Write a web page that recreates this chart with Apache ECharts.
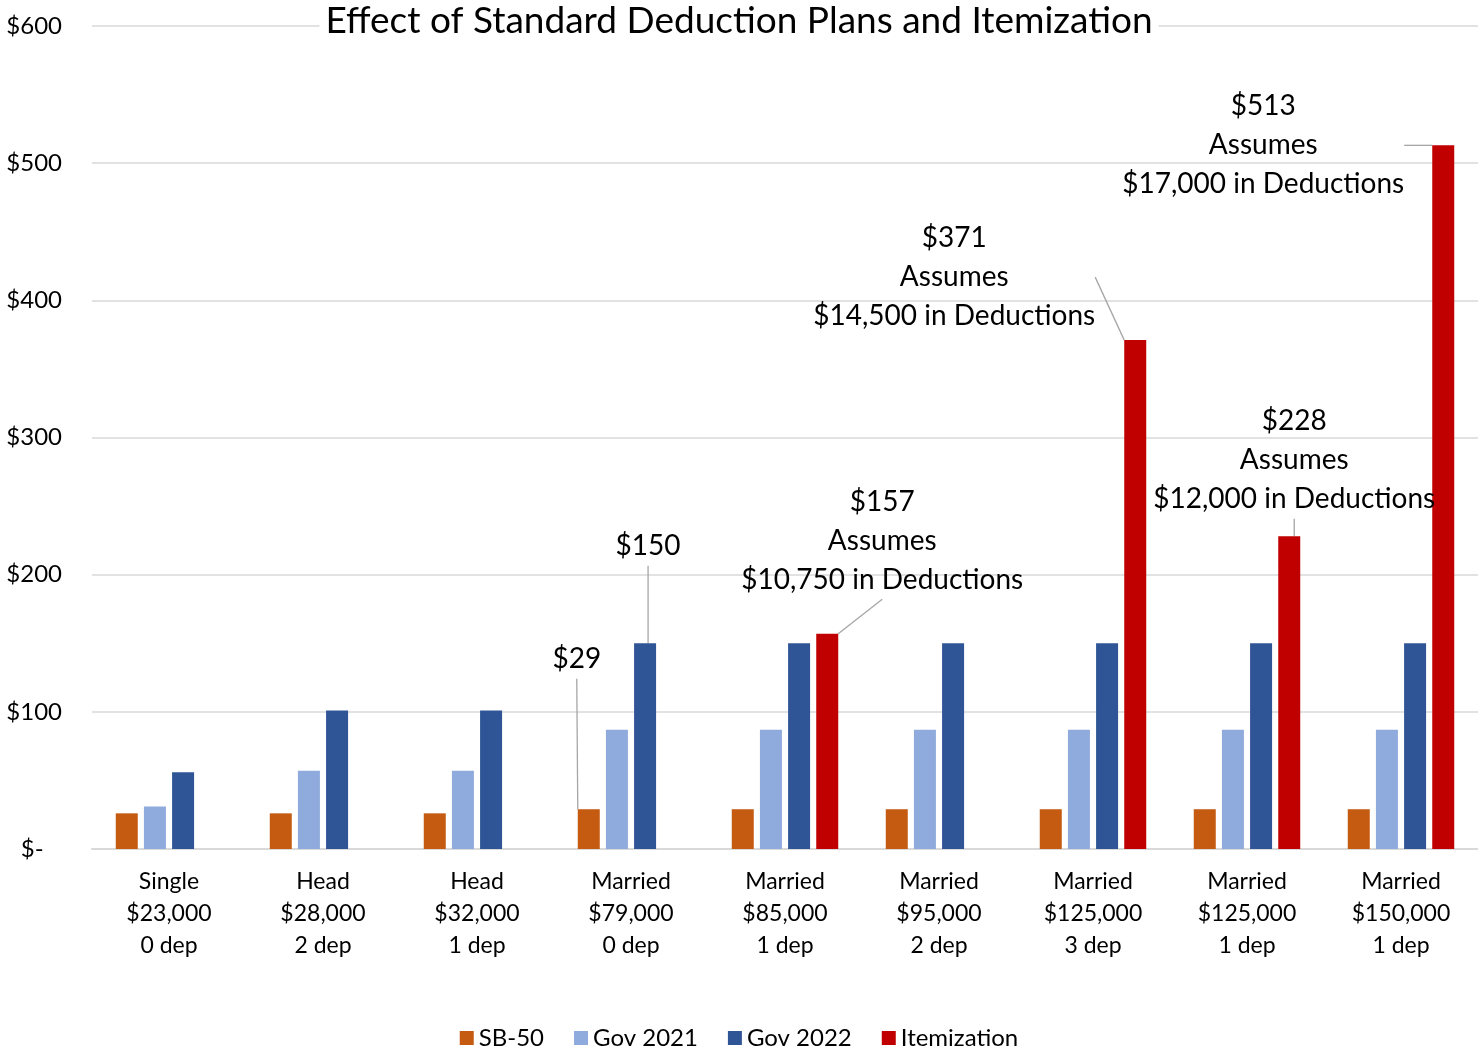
<!DOCTYPE html>
<html>
<head>
<meta charset="utf-8">
<title>Effect of Standard Deduction Plans and Itemization</title>
<script src="https://cdn.jsdelivr.net/npm/echarts@6/dist/echarts.min.js"></script>
<style>
  html, body { margin: 0; padding: 0; background: #ffffff; }
  #chart { width: 1478px; height: 1052px; }
</style>
</head>
<body>
<div id="chart"></div>
<script>
// Filing scenarios (status, income, dependents)
const categories = [
  'Single\n$23,000\n0 dep',
  'Head\n$28,000\n2 dep',
  'Head\n$32,000\n1 dep',
  'Married\n$79,000\n0 dep',
  'Married\n$85,000\n1 dep',
  'Married\n$95,000\n2 dep',
  'Married\n$125,000\n3 dep',
  'Married\n$125,000\n1 dep',
  'Married\n$150,000\n1 dep'
];
const seriesNames = ['SB-50', 'Gov 2021', 'Gov 2022', 'Itemization'];
const sb50 = [26, 26, 26, 29, 29, 29, 29, 29, 29];
const gov2021 = [31, 57, 57, 87, 87, 87, 87, 87, 87];
const gov2022 = [56, 101, 101, 150, 150, 150, 150, 150, 150];
const itemization = [null, null, null, null, 157, null, 371, 228, 513];
const assumedDeductions = [null, null, null, null, '$10,750', null, '$14,500', '$12,000', '$17,000'];
const yTicks = [0, 100, 200, 300, 400, 500, 600];

// Which bars carry a callout, and where the callout sits relative to the bar top
const callouts = {
  'SB-50': { 3: [-12, -150] },
  'Gov 2022': { 3: [3, -97] },
  'Itemization': { 4: [55, -93], 6: [-181, -63], 7: [5, -76], 8: [-180, 0] }
};
const colors = ['#C55A11', '#8FAADC', '#2F5597', '#C00000'];

const FONT = 'Lato';

function money(v) { return '$' + v; }

function buildData(name, values) {
  const marked = callouts[name] || {};
  return values.map((v, i) => {
    if (v == null) return null;
    if (marked[i]) {
      return { value: v, label: { show: true } };
    }
    return v;
  });
}

function labelText(name, p) {
  if (name === 'Itemization') {
    return money(p.value) + '\nAssumes\n' + assumedDeductions[p.dataIndex] + ' in Deductions';
  }
  return money(p.value);
}

const valueSets = [sb50, gov2021, gov2022, itemization];

const series = seriesNames.map((name, si) => ({
  name: name,
  type: 'bar',
  barWidth: 22,
  barGap: '28%',
  barCategoryGap: '31%',
  itemStyle: { color: colors[si] },
  data: buildData(name, valueSets[si]),
  label: {
    show: false,
    position: 'top',
    color: '#000000',
    fontFamily: FONT,
    fontSize: 28,
    lineHeight: 39,
    align: 'center',
    formatter: (p) => labelText(name, p)
  },
  labelLine: {
    show: true,
    lineStyle: { color: '#a6a6a6', width: 1.3 }
  },
  labelLayout: (params) => {
    const off = (callouts[name] || {})[params.dataIndex];
    if (!off) return {};
    const r = params.rect;
    return {
      x: r.x + r.width / 2 + off[0],
      y: r.y + off[1],
      align: 'center',
      verticalAlign: 'middle'
    };
  }
}));

const chart = echarts.init(document.getElementById('chart'), null, { renderer: 'canvas' });
chart.setOption({
  animation: false,
  backgroundColor: '#ffffff',
  color: colors,
  title: {
    text: 'Effect of Standard Deduction Plans and Itemization',
    left: 'center',
    top: 1,
    backgroundColor: '#ffffff',
    padding: [2, 6, 2, 6],
    textStyle: { fontFamily: FONT, fontSize: 37, fontWeight: 'normal', color: '#000000' }
  },
  legend: {
    bottom: -3,
    left: 'center',
    itemWidth: 14,
    itemHeight: 14,
    itemGap: 30,
    icon: 'rect',
    textStyle: { fontFamily: FONT, fontSize: 24, color: '#000000' },
    data: seriesNames
  },
  grid: { left: 92, right: 0, top: 26, bottom: 203 },
  xAxis: {
    type: 'category',
    data: categories,
    axisLine: { show: true, lineStyle: { color: '#d9d9d9', width: 2 } },
    axisTick: { show: false },
    axisLabel: {
      fontFamily: FONT,
      fontSize: 23,
      lineHeight: 32,
      color: '#000000',
      margin: 17,
      interval: 0
    }
  },
  yAxis: {
    type: 'value',
    min: yTicks[0],
    max: yTicks[yTicks.length - 1],
    interval: 100,
    axisLine: { show: false },
    axisTick: { show: false },
    splitLine: { lineStyle: { color: '#d9d9d9', width: 1.5 } },
    axisLabel: {
      fontFamily: FONT,
      fontSize: 24,
      color: '#000000',
      margin: 30,
      align: 'right',
      formatter: (v) => (v === 0 ? '$-   ' : money(v))
    }
  },
  series: series
});
</script>
</body>
</html>
